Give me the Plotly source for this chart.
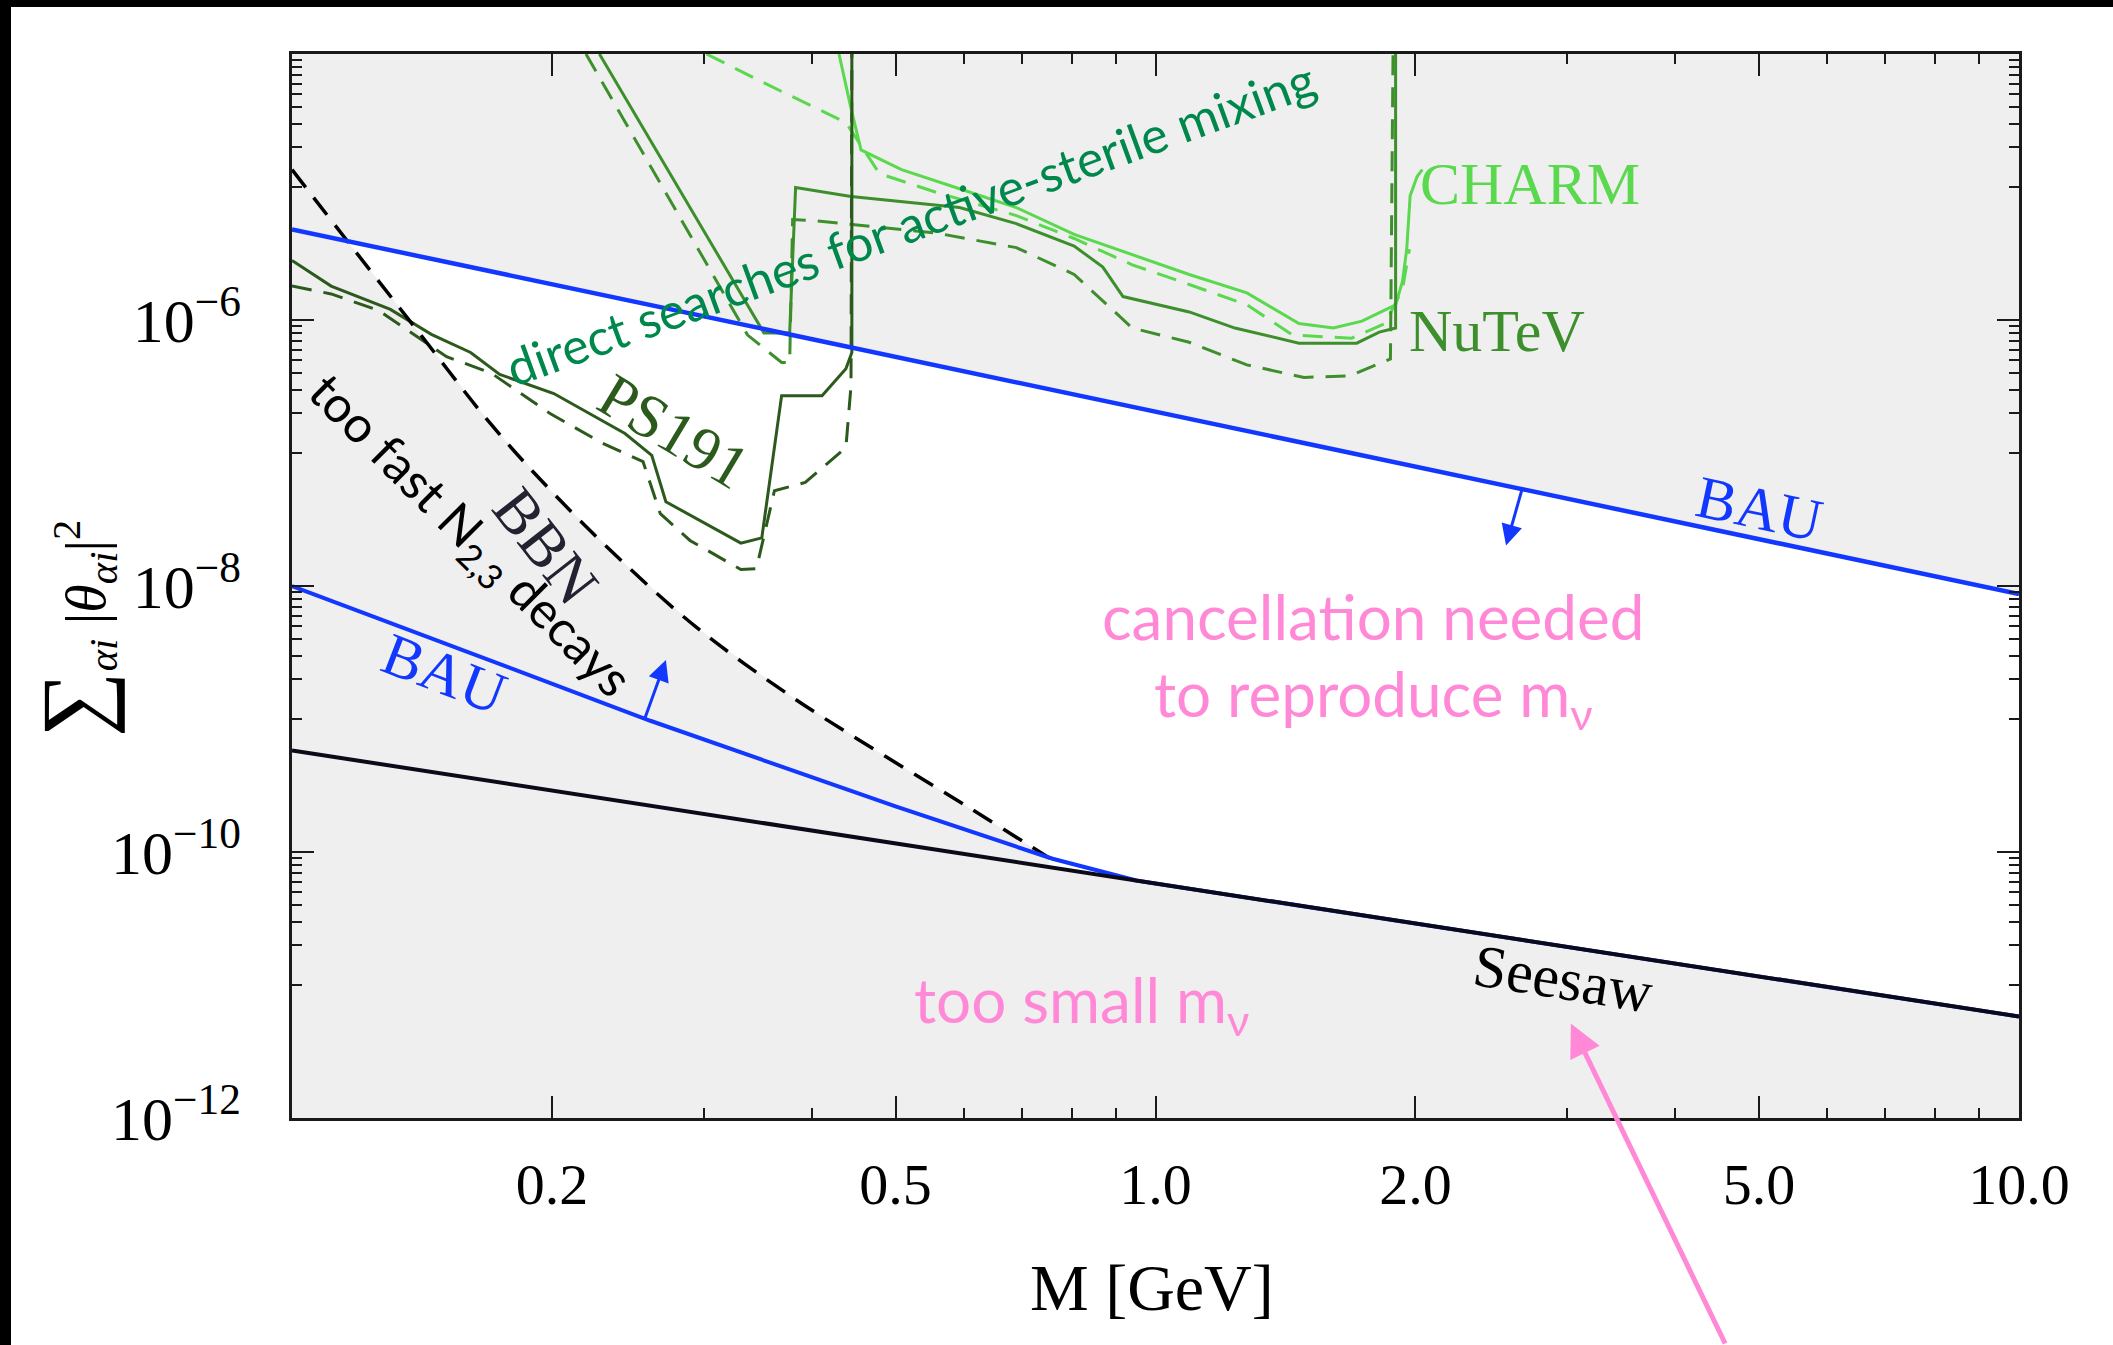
import numpy as np
import plotly.graph_objects as go

# ---------------- data ----------------
# axis limits
M_MIN, M_MAX = 0.1, 10.0
U_MIN, U_MAX = 1e-12, 1e-4

# Seesaw line (straight in log-log)
seesaw_M = [0.1, 10.0]
seesaw_U = [5.8e-10, 5.8e-12]

# Upper BAU bound
bau_up_M = [0.1, 10.0]
bau_up_U = [4.8e-6, 8.7e-9]

# Lower BAU bound (joins the seesaw line)
bau_lo_M = [0.1, 0.26, 0.5, 0.76, 0.95, 10.0]
bau_lo_U = [1.0e-8, 9.7e-10, 2.2e-10, 8.9e-11, 6.1e-11, 5.8e-12]

# BBN bound (dashed black)
bbn_M = [0.100, 0.1175, 0.1406, 0.1698, 0.1995, 0.2399, 0.2951, 0.3802, 0.4786, 0.6026, 0.7534]
bbn_U = [1.35e-5, 3.5e-6, 7.9e-7, 1.66e-7, 5.2e-8, 1.58e-8, 4.8e-9, 1.45e-9, 5.6e-10, 2.24e-10, 9.0e-11]

# PS191 (dark green): solid = normal hierarchy, dashed = inverted
ps191_M = [0.100, 0.111, 0.130, 0.145, 0.161, 0.174, 0.201, 0.243, 0.261, 0.271,
           0.331, 0.350, 0.369, 0.411, 0.438, 0.445, 0.445]
ps191_U = [2.8e-6, 1.8e-6, 1.2e-6, 7.8e-7, 5.7e-7, 3.9e-7, 2.8e-7, 1.4e-7, 9.6e-8, 4.3e-8,
           2.1e-8, 2.3e-8, 2.7e-7, 2.7e-7, 4.3e-7, 5.7e-7, 1e-4]
ps191d_M = [0.100, 0.111, 0.126, 0.151, 0.170, 0.199, 0.229, 0.255, 0.267, 0.289,
            0.331, 0.345, 0.362, 0.393, 0.438, 0.444, 0.445]
ps191d_U = [1.8e-6, 1.57e-6, 1.18e-6, 5.3e-7, 4.0e-7, 1.98e-7, 1.18e-7, 8.6e-8, 3.5e-8, 2.2e-8,
            1.33e-8, 1.35e-8, 5.2e-8, 6.0e-8, 1.1e-7, 3.2e-7, 1e-4]

# NuTeV (medium green)
nutev_M = [0.227, 0.352, 0.377, 0.383, 0.444, 0.593, 0.690, 0.805, 0.869, 0.917,
           1.094, 1.236, 1.466, 1.710, 1.816, 1.897, 1.897]
nutev_U = [1e-4, 8.0e-7, 8.0e-7, 9.9e-6, 8.5e-6, 7.0e-6, 5.3e-6, 3.6e-6, 2.5e-6, 1.5e-6,
           1.15e-6, 8.7e-7, 6.7e-7, 6.7e-7, 8.1e-7, 8.7e-7, 1e-4]
nutevd_M = [0.219, 0.337, 0.369, 0.377, 0.380, 0.401, 0.558, 0.690, 0.805, 0.940,
            1.094, 1.276, 1.486, 1.679, 1.871, 1.884]
nutevd_U = [1e-4, 7.7e-7, 4.8e-7, 4.8e-7, 5.7e-6, 5.6e-6, 4.5e-6, 3.5e-6, 2.2e-6, 8.7e-7,
            6.8e-7, 4.6e-7, 3.7e-7, 3.8e-7, 5.1e-7, 1e-4]

# CHARM (light green)
charm_M = [0.430, 0.444, 0.456, 0.508, 0.593, 0.690, 0.805, 0.940, 1.094, 1.276,
           1.466, 1.607, 1.734, 1.897, 1.932, 1.954, 1.972, 2.009, 2.037]
charm_U = [1e-4, 3.9e-5, 1.9e-5, 1.35e-5, 9.7e-6, 7.0e-6, 4.4e-6, 3.1e-6, 2.2e-6, 1.6e-6,
           9.4e-7, 8.7e-7, 9.8e-7, 1.3e-6, 1.95e-6, 3.4e-6, 8.6e-6, 1.2e-5, 1.35e-5]
charmd_M = [0.302, 0.357, 0.438, 0.479, 0.558, 0.690, 0.805, 0.940, 1.094, 1.276,
            1.442, 1.687, 1.845, 1.932, 1.968]
charmd_U = [1e-4, 5.8e-5, 3.05e-5, 1.26e-5, 9.1e-6, 6.1e-6, 4.1e-6, 2.6e-6, 1.85e-6, 1.3e-6,
            7.7e-7, 7.3e-7, 9.4e-7, 1.7e-6, 3.4e-6]

x_tickvals = [0.2, 0.5, 1.0, 2.0, 5.0, 10.0]
x_ticktext = ["0.2", "0.5", "1.0", "2.0", "5.0", "10.0"]
x_minor = [0.3, 0.4, 0.6, 0.7, 0.8, 0.9, 3, 4, 6, 7, 8, 9]
y_tickvals = [1e-12, 1e-10, 1e-8, 1e-6]
y_ticktext = ["10<sup>\u221212</sup>", "10<sup>\u221210</sup>", "10<sup>\u22128</sup>", "10<sup>\u22126</sup>"]
y_minor = [k * 10.0 ** e for e in (-11, -9, -7, -5) for k in range(1, 10)]

# ---------------- styles ----------------
GRAY = "#efefef"
BLUE = "#1238ff"
DARKG = "#2b5a1c"
MEDG = "#3d8f2c"
LIGHTG = "#5ad84e"
PINK = "#ff89d6"
TEXTG = "#00884c"
SERIF = "Liberation Serif"
SANS = "Lato"

fig = go.Figure()

# gray shading: above upper BAU
fig.add_trace(go.Scatter(x=bau_up_M + [M_MAX, M_MIN], y=bau_up_U + [U_MAX, U_MAX],
                         fill="toself", fillcolor=GRAY, line=dict(width=0), mode="lines",
                         hoverinfo="skip", showlegend=False))
# below seesaw
fig.add_trace(go.Scatter(x=seesaw_M + [M_MAX, M_MIN], y=seesaw_U + [U_MIN, U_MIN],
                         fill="toself", fillcolor=GRAY, line=dict(width=0), mode="lines",
                         hoverinfo="skip", showlegend=False))
# left of BBN (down to the seesaw line)
ss_at_end = float(10 ** np.interp(np.log10(bbn_M[-1]), np.log10(seesaw_M), np.log10(seesaw_U)))
fig.add_trace(go.Scatter(x=bbn_M + [bbn_M[-1], seesaw_M[0]], y=bbn_U + [ss_at_end, seesaw_U[0]],
                         fill="toself", fillcolor=GRAY, line=dict(width=0), mode="lines",
                         hoverinfo="skip", showlegend=False))

def line(x, y, color, width, dash=None, shape="linear"):
    fig.add_trace(go.Scatter(x=x, y=y, mode="lines",
                             line=dict(color=color, width=width, dash=dash, shape=shape),
                             hoverinfo="skip", showlegend=False))

GD = "20px,12px"
line(charmd_M, charmd_U, LIGHTG, 3, GD)
line(nutevd_M, nutevd_U, MEDG, 3, GD)
line(ps191d_M, ps191d_U, DARKG, 3, GD)
line(charm_M, charm_U, LIGHTG, 3)
line(nutev_M, nutev_U, MEDG, 3)
line(ps191_M, ps191_U, DARKG, 3)

line(bbn_M, bbn_U, "black", 3.5, "22px,13px", "spline")
line(bau_lo_M, bau_lo_U, BLUE, 4)
line(bau_up_M, bau_up_U, BLUE, 4.5)
line(seesaw_M, seesaw_U, "#0a0a18", 4)

L = np.log10
ann = []

def txt(m, u, text, color, size, font, angle=0):
    ann.append(dict(x=L(m), y=L(u), xref="x", yref="y", text=text, showarrow=False,
                    xanchor="center", yanchor="middle",
                    textangle=angle, font=dict(color=color, size=size, family=font)))

txt(10 ** -0.284, 10 ** -5.27, "direct searches for active-sterile mixing", TEXTG, 50, SANS, -20)
txt(10 ** 0.434, 10 ** -4.98, "CHARM", LIGHTG, 60, SERIF)
txt(10 ** 0.395, 10 ** -6.08, "NuTeV", MEDG, 60, SERIF)
txt(10 ** -0.558, 10 ** -6.835, "PS191", DARKG, 62, SERIF, 31)
txt(10 ** -0.706, 10 ** -7.70, "BBN", "#222230", 62, SERIF, 52)
txt(10 ** -0.795, 10 ** -7.625, "too fast N<sub>2,3</sub> decays", "black", 50, SANS, 45)
txt(10 ** 0.70, 10 ** -7.423, "BAU", BLUE, 60, SERIF, 12)
txt(10 ** -0.823, 10 ** -8.658, "BAU", BLUE, 60, SERIF, 21)
txt(10 ** 0.473, 10 ** -10.957, "Seesaw", "black", 60, SERIF, 9)
txt(10 ** 0.252, 10 ** -8.223, "cancellation needed", PINK, 62, SANS)
txt(10 ** 0.252, 10 ** -8.841, "to reproduce m<sub>\u03bd</sub>", PINK, 62, SANS)
txt(10 ** -0.086, 10 ** -11.139, "too small m<sub>\u03bd</sub>", PINK, 62, SANS)

# arrows
ann.append(dict(x=0.406, y=-7.696, xref="x", yref="y", ax=17, ay=-60, axref="pixel", ayref="pixel",
                text="", showarrow=True, arrowhead=2, arrowsize=1.4, arrowwidth=3, arrowcolor=BLUE))
ann.append(dict(x=-0.567, y=-8.557, xref="x", yref="y", ax=-22, ay=61, axref="pixel", ayref="pixel",
                text="", showarrow=True, arrowhead=2, arrowsize=1.4, arrowwidth=3, arrowcolor=BLUE))
ann.append(dict(x=0.481, y=-11.29, xref="x", yref="y", ax=155, ay=325, axref="pixel", ayref="pixel",
                text="", showarrow=True, arrowhead=2, arrowsize=1.3, arrowwidth=5, arrowcolor=PINK))

# axis titles
ann.append(dict(x=0.498, y=-0.159, xref="paper", yref="paper", showarrow=False,
                xanchor="center", yanchor="middle",
                text="M [GeV]", font=dict(size=66, family=SERIF, color="black")))
ann.append(dict(x=-0.126, y=0.46, xref="paper", yref="paper", showarrow=False, textangle=-90,
                xanchor="center", yanchor="middle",
                text="<span style='font-size:92px'>\u2211</span><sub><i>\u03b1i</i></sub> |<i>\u03b8</i><sub><i>\u03b1i</i></sub>|<sup>2</sup>",
                font=dict(size=58, family=SERIF, color="black")))

W, H = 2113, 1345
ML, MR, MT, MB = 292, 94, 54, 227
pw, ph = W - ML - MR, H - MT - MB
def px(xp):
    return (xp - ML) / pw
def py(yp):
    return (H - MB - yp) / ph

shapes = [
    dict(type="rect", xref="paper", yref="paper", x0=px(0), x1=px(W), y0=py(7), y1=py(0),
         fillcolor="black", line=dict(width=0), layer="above"),
    dict(type="rect", xref="paper", yref="paper", x0=px(0), x1=px(11), y0=py(H), y1=py(0),
         fillcolor="black", line=dict(width=0), layer="above"),
]

axis_common = dict(showgrid=False, zeroline=False, showline=True, linecolor="#1a1a1a", linewidth=2.5,
                   mirror="ticks", ticks="inside", ticklen=22, tickwidth=2, tickcolor="#1a1a1a")

fig.update_layout(
    width=W, height=H, margin=dict(l=ML, r=MR, t=MT, b=MB),
    paper_bgcolor="white", plot_bgcolor="white",
    showlegend=False, annotations=ann, shapes=shapes,
    xaxis=dict(type="log", range=[-1, 1.00001], tickvals=x_tickvals, ticktext=x_ticktext,
               minor=dict(tickvals=x_minor, ticks="inside", ticklen=10, tickwidth=1.8, tickcolor="#1a1a1a"),
               tickfont=dict(family=SERIF, size=58, color="black"),
               ticklabelstandoff=14, **axis_common),
    yaxis=dict(type="log", range=[-12, -4], tickvals=y_tickvals, ticktext=y_ticktext,
               minor=dict(tickvals=y_minor, ticks="inside", ticklen=10, tickwidth=1.8, tickcolor="#1a1a1a"),
               tickfont=dict(family=SERIF, size=62, color="black"),
               ticklabelstandoff=36, **axis_common),
)

fig.write_html("out.html")
